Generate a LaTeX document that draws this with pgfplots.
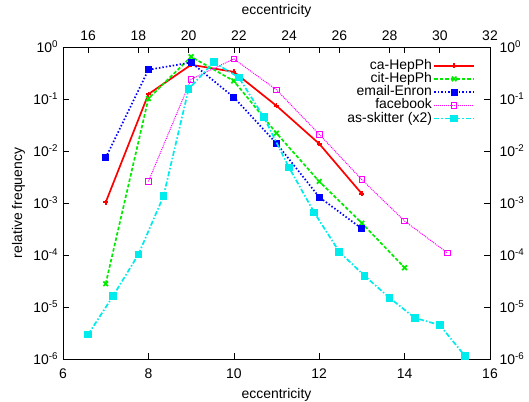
\documentclass[border=0pt]{standalone}
\usepackage{fontspec}
\setmainfont{Liberation Sans}
\usepackage{pgfplots}
\pgfplotsset{compat=1.18}
\definecolor{gred}{RGB}{255,0,0}
\definecolor{ggreen}{RGB}{0,235,0}
\definecolor{gblue}{RGB}{0,0,255}
\definecolor{gmag}{RGB}{255,0,255}
\definecolor{gcyan}{RGB}{0,235,235}
\tikzset{
  sred/.style={color=gred, line width=1.7bp, mark=+, mark size=2.5bp, mark options={solid}},
  sgreen/.style={color=ggreen, line width=1.7bp, dash pattern=on 3.5bp off 2bp, mark=x, mark size=3.3bp, mark options={solid}},
  sblue/.style={color=gblue, line width=1.7bp, dash pattern=on 1.5bp off 2bp, mark=square*, mark size=2.6bp, mark options={solid}},
  smag/.style={color=gmag, line width=1bp, dash pattern=on 1bp off 1bp, mark=square, mark size=2.8bp, mark options={solid}},
  scyan/.style={color=gcyan, line width=1.7bp, dash pattern=on 5bp off 2bp on 1.5bp off 2bp, mark=square*, mark size=3bp, mark options={solid}},
}
\begin{document}
\begin{tikzpicture}
\begin{semilogyaxis}[name=main, scale only axis, width=427bp, height=312bp,
  log basis y=10, ymin=1e-6, ymax=1,
  ytick={1e-6,1e-5,1e-4,1e-3,1e-2,1e-1,1},
  tick align=inside, major tick length=6bp, minor tick length=3bp,
  tick style={black, line width=0.6bp},
  axis line style={line width=0.8bp},
  /pgf/number format/assume math mode=true,
  yticklabel={\pgfmathtruncatemacro\ee{round(\tick)}10\textsuperscript{\ee}},
  ticklabel style={font=\fontsize{14}{16}\selectfont},
  yticklabel style={xshift=-1.5bp},
  xticklabel style={anchor=base, yshift=-19.5bp},
  xmin=6, xmax=16, xtick={6,8,...,16},
  xticklabel pos=lower, yticklabel pos=left,
  xlabel={eccentricity}, ylabel={relative frequency},
  xlabel style={font=\fontsize{14}{16}\selectfont, at={(axis description cs:0.5,0)}, anchor=base, yshift=-39bp},
  ylabel style={font=\fontsize{14}{16}\selectfont, at={(axis description cs:-0.096,0.5)}, anchor=base},
  legend plot pos=right,
  legend cell align=right,
  legend style={at={(1,1)}, anchor=north east, xshift=-15bp, yshift=-12bp,
    draw=none, fill=none, inner sep=0pt, font=\fontsize{14}{16}\selectfont, row sep=0.2bp,
    nodes={text height=10bp, text depth=3bp, inner ysep=0pt, inner xsep=1.5bp}},
  legend image code/.code={\draw[mark repeat=2,mark phase=2] plot coordinates {(0cm,0cm) (0.7cm,0cm) (1.4cm,0cm)};},
]
\addplot[sred] coordinates {(7,1.03e-3) (8,0.124) (9,0.455) (10,0.333) (11,0.074) (12,0.0138) (13,1.5e-3)};
\addlegendentry{ca-HepPh}
\addplot[sgreen] coordinates {(7,2.8e-5) (8,0.102) (9,0.65) (10,0.223) (11,0.022) (12,2.6e-3) (13,4.1e-4) (14,5.7e-5)};
\addlegendentry{cit-HepPh}
\addplot[sblue] coordinates {(7,7.4e-3) (8,0.365) (9,0.505) (10,0.108) (11,0.014) (12,1.3e-3) (13,3.2e-4)};
\addlegendentry{email-Enron}
\addplot[smag] coordinates {(8,2.6e-3) (9,0.24) (10,0.59) (11,0.15) (12,0.021) (13,2.8e-3) (14,4.5e-4) (15,1.1e-4)};
\addlegendentry{facebook}
\addlegendimage{scyan}
\addlegendentry{as-skitter (x2)}
\end{semilogyaxis}
\begin{semilogyaxis}[scale only axis, width=427bp, height=312bp,
  log basis y=10, ymin=1e-6, ymax=1,
  ytick={1e-6,1e-5,1e-4,1e-3,1e-2,1e-1,1},
  tick align=inside, major tick length=6bp, minor tick length=3bp,
  tick style={black, line width=0.6bp},
  axis line style={line width=0.8bp},
  /pgf/number format/assume math mode=true,
  yticklabel={\pgfmathtruncatemacro\ee{round(\tick)}10\textsuperscript{\ee}},
  ticklabel style={font=\fontsize{14}{16}\selectfont},
  yticklabel style={xshift=6bp},
  xticklabel style={anchor=base, yshift=7bp},
  xmin=15, xmax=32, xtick={16,18,...,32},
  axis x line*=top, axis y line*=right,
  xlabel={eccentricity},
  xlabel style={font=\fontsize{14}{16}\selectfont, at={(axis description cs:0.5,1)}, anchor=base, yshift=33bp},
]
\addplot[scyan] coordinates {(16,2.96e-6) (17,1.65e-5) (18,1.02e-4) (19,1.35e-3) (20,0.155) (21,0.51) (22,0.26) (23,0.0445) (24,4.8e-3) (25,6.6e-4) (26,1.15e-4) (27,4.0e-5) (28,1.5e-5) (29,6.2e-6) (30,4.5e-6) (31,1.15e-6)};
\end{semilogyaxis}
\pgfresetboundingbox
\path (main.south west) ++(-63bp,-43bp) rectangle ++(529bp,402bp);
\end{tikzpicture}
\end{document}
